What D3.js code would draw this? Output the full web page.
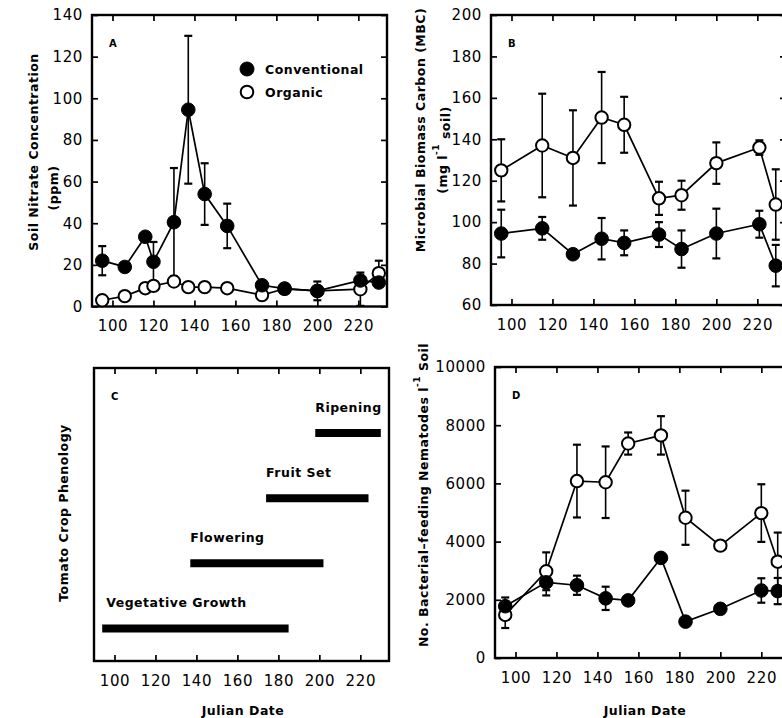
<!DOCTYPE html>
<html><head><meta charset="utf-8">
<script src="https://cdn.jsdelivr.net/npm/d3@7"></script>
<style>
body{margin:0;background:#fff;}
svg{display:block;}
text{font-family:"DejaVu Sans",sans-serif;fill:#000;}
</style>
</head><body>
<svg id="chart" width="782" height="718"></svg>
<script>
// ---------- data ----------
const xTickValues = [100,120,140,160,180,200,220];
const xDomain = [90, 234];

// Panel A: soil nitrate (ppm)
const daysA = [95,106,116,120,130,137,145,156,173,184,200,221,230];
const nitrateConv    = [22,19,33.5,21.5,40.5,94.5,54,38.7,10.2,8.6,7.5,12.5,11.5];
const nitrateConvErr = [7,0,0,9.5,26,35.5,14.8,10.7,0,0,4.5,0,0];
const nitrateOrg     = [3,5,8.8,9.9,12,9.3,9.3,8.8,5.5,8.5,7.5,8.3,16];
const nitrateOrgErr  = [0,0,0,0,0,0,0,0,0,0,0,8,6];
const nitrateTicks = [0,20,40,60,80,100,120,140];

// Panel B: microbial biomass carbon
const daysB = [95,115,130,144,155,172,183,200,221,229];
const mbcConv    = [94.5,97,84.5,92,90,94,87,94.5,99,79];
const mbcConvErr = [11.5,5.5,0,10,6,6,9,12,6.5,10];
const mbcOrg     = [125,137,131,150.5,147,111.5,113,128.5,136,108.5];
const mbcOrgErr  = [15,25,23,22,13.5,8,7,10,3.5,17];
const mbcTicks = [60,80,100,120,140,160,180,200];

// Panel C: tomato crop phenology
const phases     = ["Vegetative Growth","Flowering","Fruit Set","Ripening"];
const phaseLevel = [1,2,3,4];
const phaseStart = [94,137,174,198];
const phaseEnd   = [185,202,224,230];

// Panel D: bacterial-feeding nematodes
const daysD = [95,115,130,144,155,171,183,200,220,228];
const nemConv    = [1780,2600,2500,2050,1980,3440,1250,1690,2320,2300];
const nemConvErr = [300,450,330,400,0,0,0,0,420,450];
const nemOrg     = [1480,2980,6080,6040,7370,7650,4820,3860,4980,3310];
const nemOrgErr  = [450,650,1250,1230,380,660,930,0,990,1000];
const nemTicks = [0,2000,4000,6000,8000,10000];

const seriesNames = ["Conventional","Organic"];

// ---------- drawing ----------
const svg = d3.select("#chart");

function panel(opt){
  const x = d3.scaleLinear().domain(xDomain).range([opt.x0, opt.x1]);
  const y = d3.scaleLinear().domain(opt.yDomain).range([opt.y0, opt.y1]);
  const g = svg.append("g");
  const fs = 15;
  const ab = g.append("g").attr("transform",`translate(0,${opt.y0})`)
    .call(d3.axisBottom(x).tickValues(xTickValues).tickSize(-6).tickPadding(14).tickFormat(d3.format("d")));
  const at = g.append("g").attr("transform",`translate(0,${opt.y1})`)
    .call(d3.axisTop(x).tickValues(xTickValues).tickSize(-6).tickFormat(""));
  const axes = [ab, at];
  if (opt.yTicks){
    const al = g.append("g").attr("transform",`translate(${opt.x0},0)`)
      .call(d3.axisLeft(y).tickValues(opt.yTicks).tickSize(-6).tickPadding(9).tickFormat(d3.format("d")));
    const ar = g.append("g").attr("transform",`translate(${opt.x1},0)`)
      .call(d3.axisRight(y).tickValues(opt.yTicks).tickSize(-6).tickFormat(""));
    axes.push(al, ar);
  }
  axes.forEach(a=>{
    a.select(".domain").remove();
    a.selectAll(".tick line").attr("stroke","#000").attr("stroke-width",1.7);
    a.selectAll(".tick text").attr("font-size",fs).attr("font-family","DejaVu Sans").attr("letter-spacing","0.6px").attr("fill","#000");
  });
  g.append("rect").attr("x",opt.x0).attr("y",opt.y1)
    .attr("width",opt.x1-opt.x0).attr("height",opt.y0-opt.y1)
    .attr("fill","none").attr("stroke","#000").attr("stroke-width",2.4);
  g.append("text").attr("x",opt.x0+17).attr("y",opt.y1+32)
    .attr("font-size",10).attr("font-weight","bold").text(opt.letter);
  return {g,x,y};
}

function series(p, days, vals, errs){
  const {g,x,y} = p;
  const pts = days.map((d,i)=>({d, v:vals[i], e:errs[i]}));
  g.append("path").datum(pts)
    .attr("d", d3.line().x(d=>x(d.d)).y(d=>y(d.v)))
    .attr("fill","none").attr("stroke","#000").attr("stroke-width",1.7);
  const eb = g.append("g").attr("stroke","#000").attr("stroke-width",1.6);
  pts.filter(d=>d.e>0).forEach(d=>{
    const cx = x(d.d), t = y(d.v+d.e), b = y(d.v-d.e);
    eb.append("line").attr("x1",cx).attr("x2",cx).attr("y1",t).attr("y2",b);
    eb.append("line").attr("x1",cx-4).attr("x2",cx+4).attr("y1",t).attr("y2",t).attr("stroke-width",2.2);
    eb.append("line").attr("x1",cx-4).attr("x2",cx+4).attr("y1",b).attr("y2",b).attr("stroke-width",2.2);
  });
  return pts;
}
function markers(p, pts, filled){
  const {g,x,y} = p;
  g.append("g").selectAll("circle").data(pts).join("circle")
    .attr("cx",d=>x(d.d)).attr("cy",d=>y(d.v))
    .attr("r", filled?6.8:6.2)
    .attr("fill", filled?"#000":"#fff")
    .attr("stroke","#000").attr("stroke-width",filled?1:2);
}

function rotLabel(x, y, parts, size){
  const t = svg.append("text").attr("transform",`translate(${x},${y}) rotate(-90)`)
    .attr("text-anchor","middle").attr("dominant-baseline","central")
    .attr("font-size",size).attr("font-weight","bold").attr("letter-spacing","0.5px");
  parts.forEach(p=>{
    const s = t.append("tspan").text(p.t);
    if (p.dy) s.attr("dy",p.dy);
    if (p.fs) s.attr("font-size",p.fs);
  });
  return t;
}

// Panel A
const pA = panel({x0:92,x1:387,y0:306.5,y1:15,yDomain:[0,140],yTicks:nitrateTicks,letter:"A"});
const oA = series(pA, daysA, nitrateOrg, nitrateOrgErr);
const cA = series(pA, daysA, nitrateConv, nitrateConvErr);
markers(pA, oA, false); markers(pA, cA, true);
const leg = pA.g.append("g");
seriesNames.forEach((n,i)=>{
  const ly = 69 + i*23;
  leg.append("circle").attr("cx",247).attr("cy",ly).attr("r",i===0?7:6.3)
    .attr("fill",i===0?"#000":"#fff").attr("stroke","#000").attr("stroke-width",i===0?1:2);
  leg.append("text").attr("x",265).attr("y",ly).attr("dominant-baseline","central")
    .attr("font-size",12.5).attr("font-weight","bold").attr("letter-spacing","0.5px").text(n);
});
rotLabel(33, 152, [{t:"Soil Nitrate Concentration"}], 12.5);
rotLabel(53, 188, [{t:"(ppm)"}], 12.5);

// Panel B
const pB = panel({x0:491,x1:786,y0:305,y1:15,yDomain:[60,200],yTicks:mbcTicks,letter:"B"});
const oB = series(pB, daysB, mbcOrg, mbcOrgErr);
const cB = series(pB, daysB, mbcConv, mbcConvErr);
markers(pB, oB, false); markers(pB, cB, true);
rotLabel(420, 130, [{t:"Microbial Biomass Carbon (MBC)"}], 12.5);
rotLabel(442, 150, [{t:"(mg l"},{t:"-1",dy:-6,fs:9},{t:" soil)",dy:9}], 12.5);

// Panel C
const pC = panel({x0:94,x1:389,y0:661,y1:368,yDomain:[0.5,5],yTicks:null,letter:"C"});
const barG = pC.g.append("g");
phases.forEach((ph,i)=>{
  const yy = pC.y(phaseLevel[i]);
  barG.append("line").attr("x1",pC.x(phaseStart[i])).attr("x2",pC.x(phaseEnd[i]))
    .attr("y1",yy).attr("y2",yy).attr("stroke","#000").attr("stroke-width",8);
  barG.append("text").attr("x",pC.x(phaseStart[i])+(i===0?4:0)).attr("y",yy-21)
    .attr("font-size",12.5).attr("font-weight","bold").attr("letter-spacing","0.5px").text(ph);
});
rotLabel(63, 513, [{t:"Tomato Crop Phenology"}], 12.5);
svg.append("text").attr("x",243).attr("y",715).attr("text-anchor","middle")
  .attr("font-size",12.5).attr("font-weight","bold").attr("letter-spacing","0.5px").text("Julian Date");

// Panel D
const pD = panel({x0:495,x1:790,y0:658,y1:367,yDomain:[0,10000],yTicks:nemTicks,letter:"D"});
const oD = series(pD, daysD, nemOrg, nemOrgErr);
const cD = series(pD, daysD, nemConv, nemConvErr);
markers(pD, oD, false); markers(pD, cD, true);
rotLabel(423, 495, [{t:"No. Bacterial\u2013feeding Nematodes l"},{t:"-1",dy:-6,fs:9},{t:" Soil",dy:6}], 12.5);
svg.append("text").attr("x",645).attr("y",715).attr("text-anchor","middle")
  .attr("font-size",12.5).attr("font-weight","bold").attr("letter-spacing","0.5px").text("Julian Date");
</script>
</body></html>
